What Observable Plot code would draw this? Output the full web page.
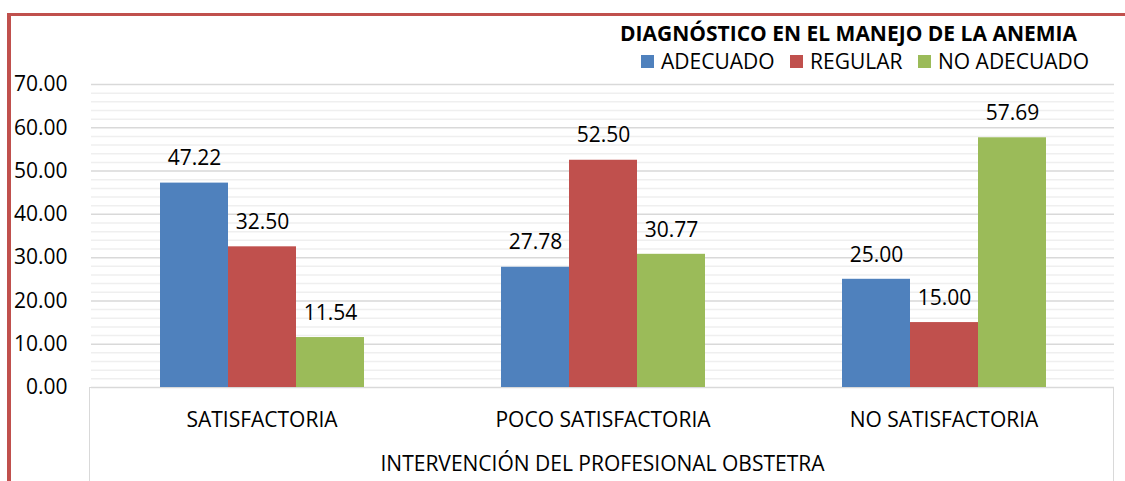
<!DOCTYPE html>
<html><head><meta charset="utf-8">
<script src="https://cdn.jsdelivr.net/npm/d3@7"></script>
<script src="https://cdn.jsdelivr.net/npm/@observablehq/plot@0.6"></script>
<style>
body{margin:0;background:#fff;}
#wrap{position:relative;width:1125px;height:481px;overflow:hidden;font-family:"Open Sans",sans-serif;color:#000;background:#fff;}
#chart{position:absolute;left:0;top:0;}
.redtop{position:absolute;left:7px;top:13px;width:1118px;height:3px;background:#C0504D;}
.redleft{position:absolute;left:7px;top:13px;width:3.5px;height:470px;background:#C0504D;}
.box{position:absolute;left:89px;top:387px;width:1025px;height:100px;border:1.5px solid #D9D9D9;border-bottom:none;box-sizing:border-box;}
.ltitle{position:absolute;left:620px;top:23px;font-weight:bold;font-size:21px;line-height:1;white-space:nowrap;}
.litem{position:absolute;top:51px;font-size:21px;line-height:1;white-space:nowrap;}
.sw{position:absolute;top:55px;width:13px;height:13px;}
.xtitle{position:absolute;left:90px;width:1025px;top:453px;text-align:center;font-size:21px;line-height:1;white-space:nowrap;}
</style></head><body>
<div id="wrap">
  <div class="box"></div>
  <div id="chart"></div>
  <div class="redtop"></div>
  <div class="redleft"></div>
  <div id="legend"></div>
  <div class="xtitle" id="xtitle"></div>
</div>
<script>
const categories = ["SATISFACTORIA", "POCO SATISFACTORIA", "NO SATISFACTORIA"];
const seriesNames = ["ADECUADO", "REGULAR", "NO ADECUADO"];
const seriesColors = ["#4F81BD", "#C0504D", "#9BBB59"];
const adecuado = [47.22, 27.78, 25.00];
const regular = [32.50, 52.50, 15.00];
const noAdecuado = [11.54, 30.77, 57.69];
const yTicks = [0, 10, 20, 30, 40, 50, 60, 70];
const yMinorTicks = [2,4,6,8,12,14,16,18,22,24,26,28,32,34,36,38,42,44,46,48,52,54,56,58,62,64,66,68];
const legendTitle = "DIAGNÓSTICO EN EL MANEJO DE LA ANEMIA";
const xTitle = "INTERVENCIÓN DEL PROFESIONAL OBSTETRA";

const seriesValues = [adecuado, regular, noAdecuado];
const data = [];
categories.forEach((c, i) => {
  seriesNames.forEach((s, j) => {
    data.push({category: c, series: s, value: seriesValues[j][i]});
  });
});

const chart = Plot.plot({
  width: 1125,
  height: 481,
  marginLeft: 90,
  marginRight: 10,
  marginTop: 84,
  marginBottom: 94,
  style: {fontFamily: "Open Sans, sans-serif", fontSize: "21px", color: "#000", background: "transparent"},
  fx: {domain: categories, padding: 0, label: null},
  x: {domain: seriesNames, paddingInner: 0, paddingOuter: 1, axis: null},
  y: {domain: [0, 70], label: null},
  color: {domain: seriesNames, range: seriesColors},
  marks: [
    Plot.gridY(yMinorTicks, {stroke: "#EFEFEF", strokeOpacity: 1, strokeWidth: 1.5}),
    Plot.gridY(yTicks, {stroke: "#D9D9D9", strokeOpacity: 1, strokeWidth: 1.5}),
    Plot.axisY(yTicks, {tickSize: 0, tickPadding: 24, tickFormat: d => d.toFixed(2), fontSize: 21, label: null}),
    Plot.barY(data, {fx: "category", x: "series", y: "value", fill: "series"}),
    Plot.text(data, {fx: "category", x: "series", y: "value", text: d => d.value.toFixed(2), dy: -24.5, fontSize: 21, fill: "#000"}),
    Plot.axisFx({anchor: "bottom", tickSize: 0, tickPadding: 25, fontSize: 21, label: null})
  ]
});
document.getElementById("chart").appendChild(chart);

// legend
const legend = document.getElementById("legend");
const t = document.createElement("div");
t.className = "ltitle";
t.textContent = legendTitle;
legend.appendChild(t);
const swLeft = [641, 790, 918];
seriesNames.forEach((s, j) => {
  const sw = document.createElement("div");
  sw.className = "sw";
  sw.style.left = swLeft[j] + "px";
  sw.style.background = seriesColors[j];
  legend.appendChild(sw);
  const lt = document.createElement("div");
  lt.className = "litem";
  lt.style.left = (swLeft[j] + 20) + "px";
  lt.textContent = s;
  legend.appendChild(lt);
});
document.getElementById("xtitle").textContent = xTitle;
</script>
</body></html>
